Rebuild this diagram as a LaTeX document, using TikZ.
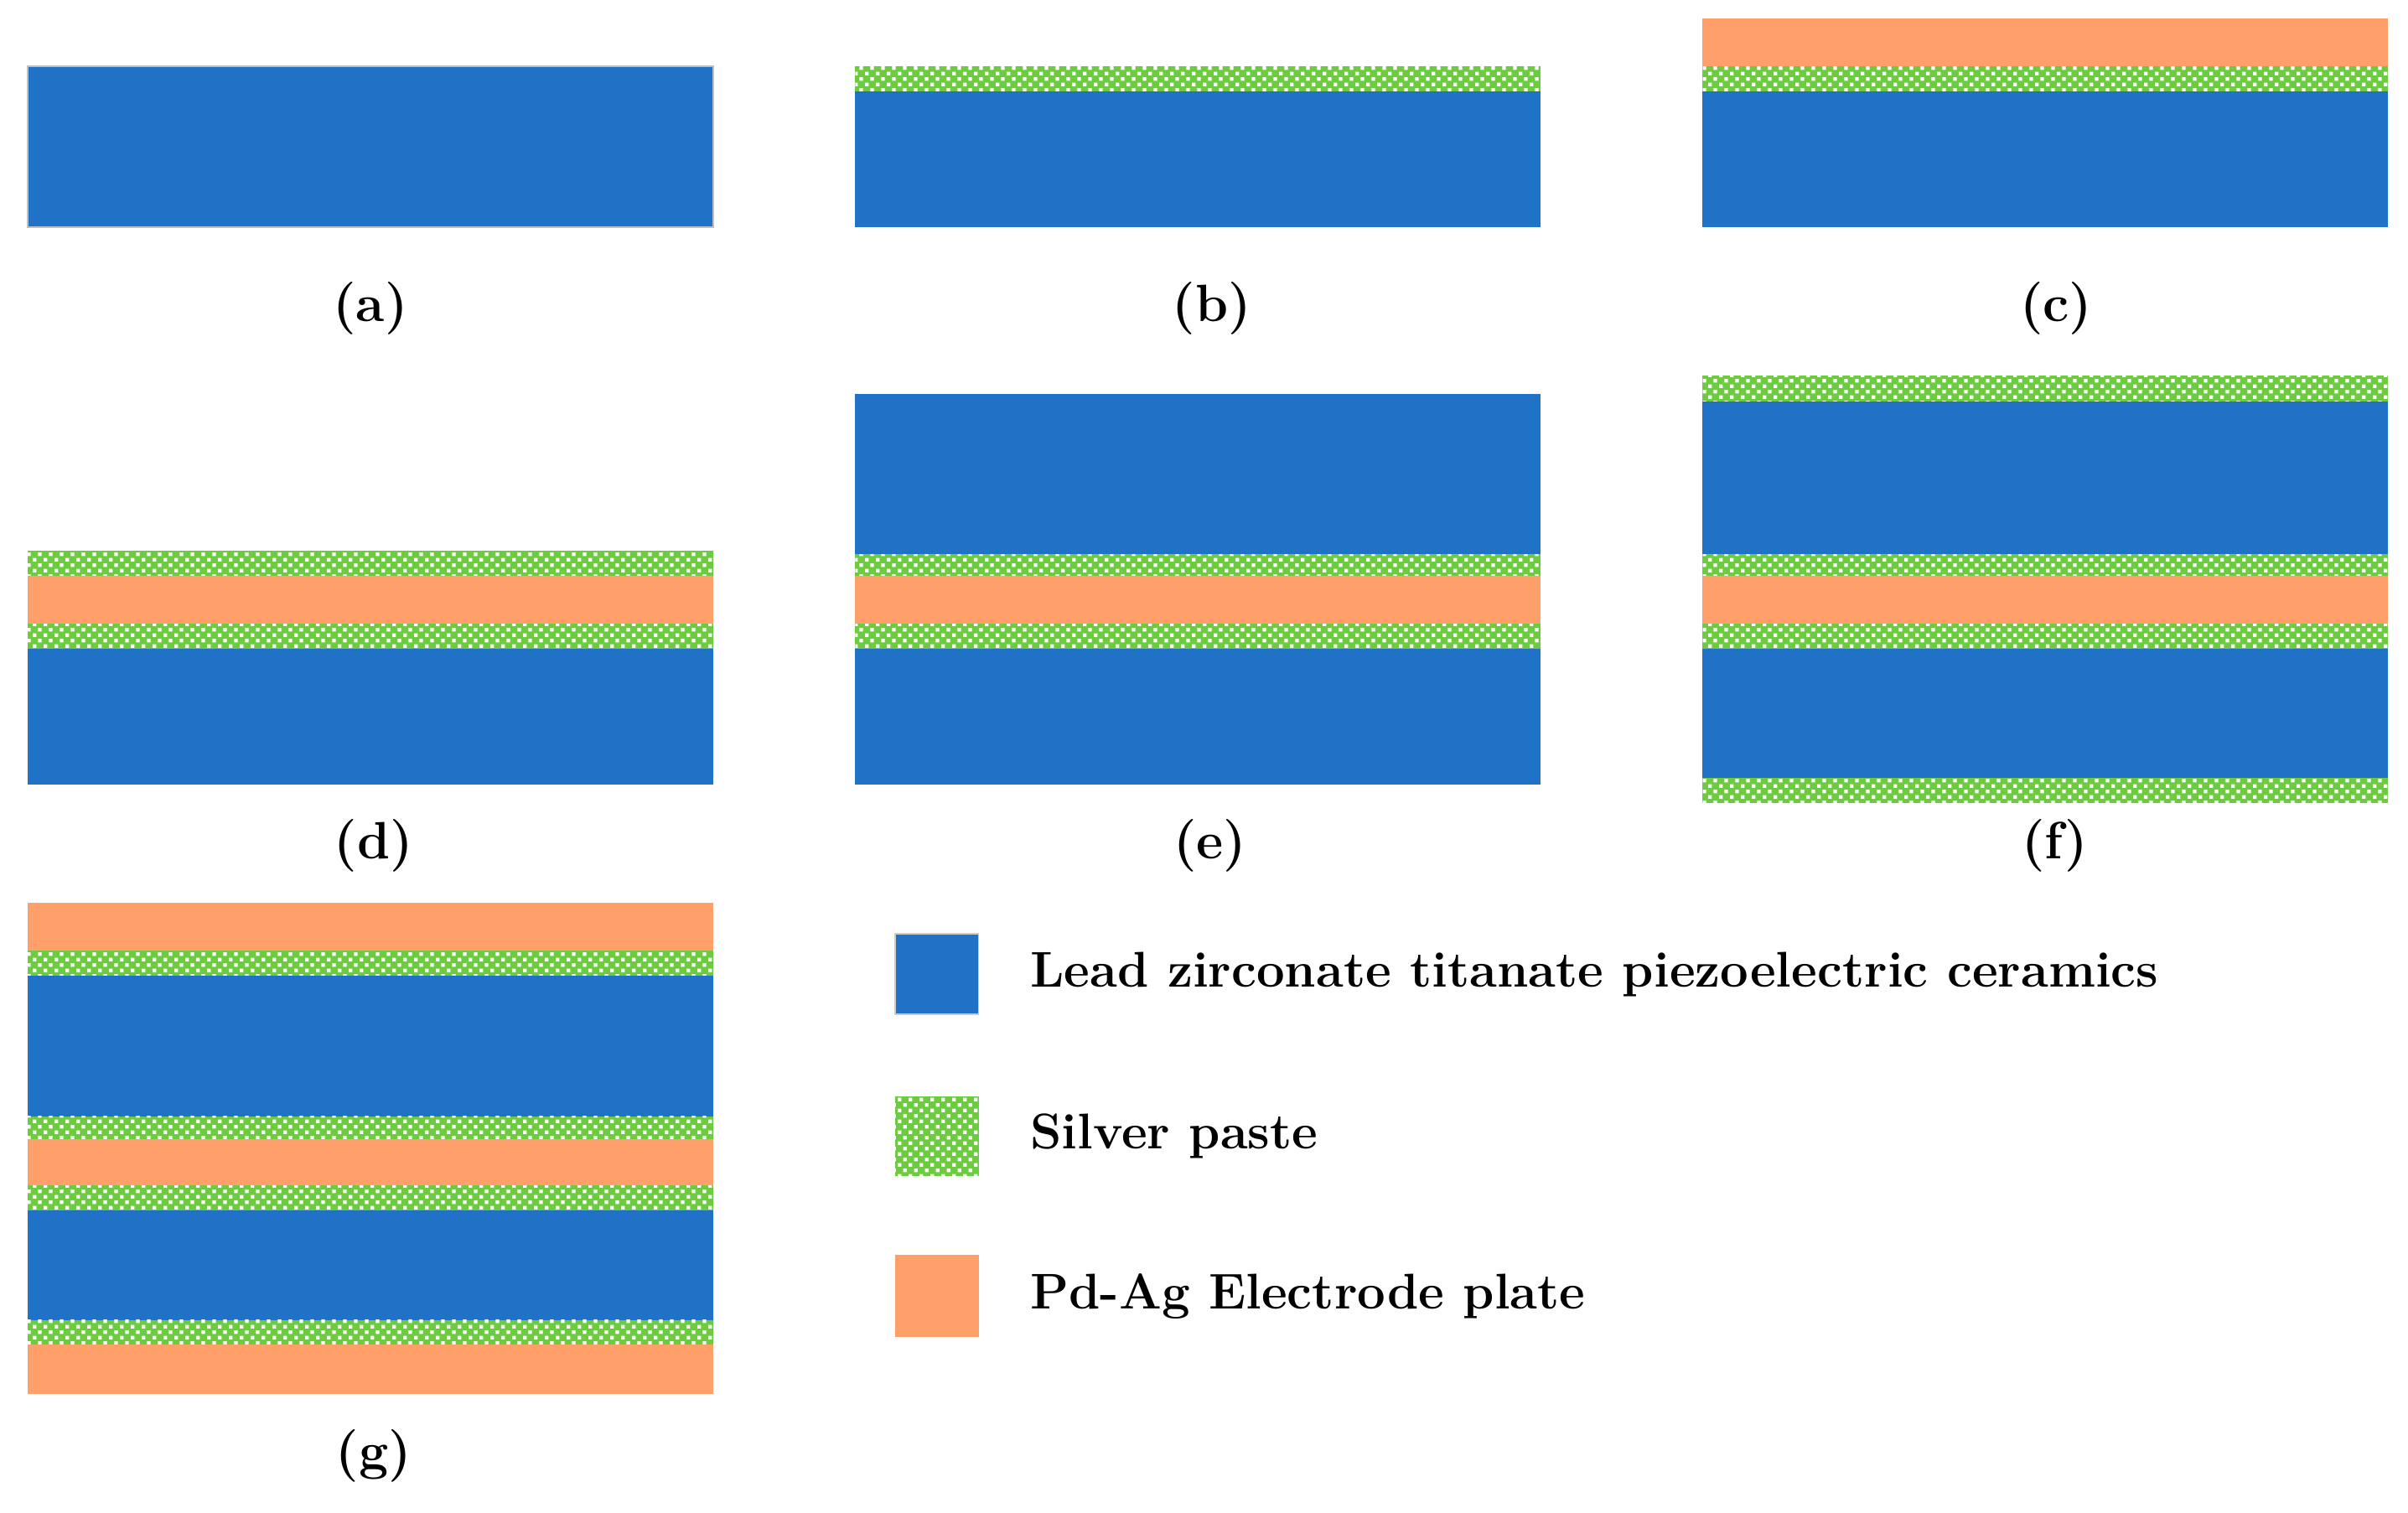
\documentclass[tikz,border=0pt]{standalone}
\usetikzlibrary{patterns.meta}
\definecolor{pzt}{HTML}{1F72C6}
\definecolor{ag}{HTML}{6CCB3F}
\definecolor{pd}{HTML}{FFA06A}
\tikzdeclarepattern{name=silverdots, type=uncolored,
  bottom left={(0pt,0pt)}, top right={(7pt,7pt)}, tile size={(7pt,7pt)},
  code={\fill (0.6pt,0.6pt) rectangle (2.9pt,2.9pt); \fill (4.1pt,4.1pt) rectangle (6.4pt,6.4pt);}}
\tikzset{
  blue/.style={fill=pzt},
  orange/.style={fill=pd},
  silver/.style={fill=ag, postaction={pattern=silverdots, pattern color=white}},
  lab/.style={font=\fontsize{34}{40}\selectfont\bfseries},
  leg/.style={font=\fontsize{32.5}{38}\selectfont\bfseries, anchor=west}
}
\begin{document}
\begin{tikzpicture}[x=1pt,y=-1pt]
\useasboundingbox (0,0) rectangle (1560,980);
% (a)
\fill[blue, draw=gray!50, line width=1pt] (18,43) rectangle (462,147);
\node[lab] (la) at (240,200) {(a)};
% (b)
\fill[silver] (554,43) rectangle (998,59);
\fill[blue] (554,59) rectangle (998,147);
\node[lab] (lb) at (785,200) {(b)};
% (c)
\fill[orange] (1103,12) rectangle (1547,43);
\fill[silver] (1103,43) rectangle (1547,59);
\fill[blue] (1103,59) rectangle (1547,147);
\node[lab] (lc) at (1332,200) {(c)};
% (d)
\fill[silver] (18,357) rectangle (462,373);
\fill[orange] (18,373) rectangle (462,404);
\fill[silver] (18,404) rectangle (462,420);
\fill[blue] (18,420) rectangle (462,508);
\node[lab] (ld) at (242,548) {(d)};
% (e)
\fill[blue] (554,255) rectangle (998,359);
\fill[silver] (554,359) rectangle (998,373);
\fill[orange] (554,373) rectangle (998,404);
\fill[silver] (554,404) rectangle (998,420);
\fill[blue] (554,420) rectangle (998,508);
\node[lab] (le) at (784,548) {(e)};
% (f)
\fill[silver] (1103,243) rectangle (1547,260);
\fill[blue] (1103,260) rectangle (1547,359);
\fill[silver] (1103,359) rectangle (1547,373);
\fill[orange] (1103,373) rectangle (1547,404);
\fill[silver] (1103,404) rectangle (1547,420);
\fill[blue] (1103,420) rectangle (1547,504);
\fill[silver] (1103,504) rectangle (1547,520);
\node[lab] (lf) at (1331,548) {(f)};
% (g)
\fill[orange] (18,585) rectangle (462,616);
\fill[silver] (18,616) rectangle (462,632);
\fill[blue] (18,632) rectangle (462,723);
\fill[silver] (18,723) rectangle (462,738);
\fill[orange] (18,738) rectangle (462,768);
\fill[silver] (18,768) rectangle (462,784);
\fill[blue] (18,784) rectangle (462,855);
\fill[silver] (18,855) rectangle (462,871);
\fill[orange] (18,871) rectangle (462,903);
\node[lab] (lg) at (242,943) {(g)};
% legend
\fill[blue, draw=gray!40, line width=0.8pt] (580,605) rectangle (634,657);
\fill[silver] (580,710) rectangle (634,762);
\fill[orange] (580,813) rectangle (634,866);
\node[leg] (t1) at (664,631) {Lead zirconate titanate piezoelectric ceramics};
\node[leg] (t2) at (664,736) {Silver paste};
\node[leg] (t3) at (664,840) {Pd-Ag Electrode plate};
\end{tikzpicture}
\end{document}
